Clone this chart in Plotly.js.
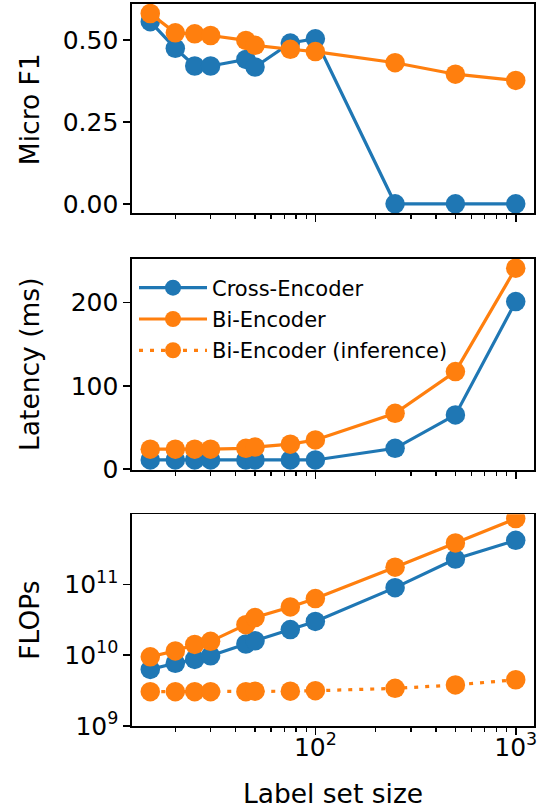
<!DOCTYPE html>
<html>
<head>
<meta charset="utf-8">
<script src="https://cdn.plot.ly/plotly-3.0.1.min.js"></script>
<style>html,body{margin:0;padding:0;background:#fff}#chart{width:544px;height:809px}</style>
</head>
<body>
<div id="chart"></div>
<script>
// ---- data ----
const labelSizes = [15, 20, 25, 30, 45, 50, 75, 100, 250, 500, 1000];
const f1Cross = [0.555, 0.474, 0.42, 0.42, 0.44, 0.417, 0.49, 0.503, 0, 0, 0];
const f1Bi = [0.58, 0.521, 0.518, 0.513, 0.498, 0.483, 0.471, 0.464, 0.43, 0.395, 0.376];
const latCross = [11, 11, 11, 11, 11, 11, 11, 11, 25, 65, 201];
const latBi = [24, 24, 24, 24, 25, 26.5, 30, 35, 67, 117, 241];
const flopsCross = [6.3e9, 7.7e9, 8.7e9, 9.8e9, 1.44e10, 1.6e10, 2.3e10, 3.0e10, 9.0e10, 2.28e11, 4.2e11];
const flopsBi = [9.5e9, 1.15e10, 1.42e10, 1.57e10, 2.7e10, 3.4e10, 4.8e10, 6.3e10, 1.75e11, 3.85e11, 8.5e11];
const flopsBiInf = [3.05e9, 3.05e9, 3.05e9, 3.05e9, 3.05e9, 3.1e9, 3.1e9, 3.15e9, 3.4e9, 3.8e9, 4.5e9];
const seriesNames = ['Cross-Encoder', 'Bi-Encoder', 'Bi-Encoder (inference)'];
const xTickVals = [100, 1000];
const xTickText = ['10<sup>2</sup>', '10<sup>3</sup>'];
const xMinorVals = [20, 30, 40, 50, 60, 70, 80, 90, 200, 300, 400, 500, 600, 700, 800, 900];
const flopsTickVals = [1e9, 1e10, 1e11];
const flopsTickText = ['10<sup>9</sup>', '10<sup>10</sup>', '10<sup>11</sup>'];
const yTitles = ['Micro F1', 'Latency (ms)', 'FLOPs'];
const xTitle = 'Label set size';

// ---- style ----
const BLUE = '#1f77b4', ORANGE = '#ff7f0e';
const LW = 3.2, MS = 19.5;
const FONT = 'DejaVu Sans, sans-serif';

function tr(y, name, color, xa, ya, show, dash) {
  return {
    x: labelSizes, y: y, name: name, type: 'scatter', mode: 'lines+markers',
    xaxis: xa, yaxis: ya, showlegend: show, legendgroup: name,
    line: {color: color, width: LW, dash: dash || 'solid'},
    marker: {color: color, size: MS}
  };
}

const data = [
  tr(f1Cross, seriesNames[0], BLUE, 'x', 'y', true),
  tr(f1Bi, seriesNames[1], ORANGE, 'x', 'y', true),
  tr(latCross, seriesNames[0], BLUE, 'x2', 'y2', false),
  tr(latBi, seriesNames[1], ORANGE, 'x2', 'y2', false),
  tr(flopsCross, seriesNames[0], BLUE, 'x3', 'y3', false),
  tr(flopsBi, seriesNames[1], ORANGE, 'x3', 'y3', false),
  tr(flopsBiInf, seriesNames[2], ORANGE, 'x3', 'y3', true, '4px,7px')
];

const xRange = [Math.log10(15) - 0.0912, 3.0912];
function xAxis(anchor, labels) {
  return {
    type: 'log', range: xRange, anchor: anchor, domain: [0, 1],
    tickmode: 'array', tickvals: xTickVals, ticktext: xTickText,
    showticklabels: labels, ticks: 'outside', ticklen: 7, tickwidth: 1.6, tickcolor: '#000',
    minor: {tickmode: 'array', tickvals: xMinorVals, ticks: 'outside', ticklen: 4, tickwidth: 1.2, tickcolor: '#000', showgrid: false},
    showline: true, linecolor: '#000', linewidth: 1.6, mirror: true,
    showgrid: false, zeroline: false,
    tickfont: {family: FONT, size: 25, color: '#000'}
  };
}
function yAxis(anchor, domain, extra) {
  return Object.assign({
    anchor: anchor, domain: domain,
    ticks: 'outside', ticklen: 7, tickwidth: 1.6, tickcolor: '#000',
    showline: true, linecolor: '#000', linewidth: 1.6, mirror: true,
    showgrid: false, zeroline: false,
    tickfont: {family: FONT, size: 25, color: '#000'}
  }, extra);
}

const domTop = [0.7101, 1], domMid = [0.3546, 0.6468], domBot = [0, 0.2932];

const xa3 = xAxis('y3', true);
xa3.ticklabelstandoff = -9;
xa3.title = {text: xTitle, font: {family: FONT, size: 26.5, color: '#000'}, standoff: 26};

const layout = {
  width: 544, height: 809,
  margin: {l: 132, r: 10, t: 4, b: 83},
  paper_bgcolor: '#fff', plot_bgcolor: '#fff',
  font: {family: FONT, color: '#000'},
  xaxis: xAxis('y', false),
  xaxis2: Object.assign(xAxis('y2', false), {matches: 'x'}),
  xaxis3: Object.assign(xa3, {matches: 'x'}),
  yaxis: yAxis('x', domTop, {range: [-0.029, 0.609], tickmode: 'array', tickvals: [0, 0.25, 0.5], tickformat: '.2f'}),
  yaxis2: yAxis('x2', domMid, {range: [-1, 252], tickmode: 'array', tickvals: [0, 100, 200]}),
  yaxis3: yAxis('x3', domBot, {type: 'log', range: [9, 11.99], tickmode: 'array', tickvals: flopsTickVals, ticktext: flopsTickText}),
  showlegend: true,
  legend: {
    x: 0.005, xanchor: 'left', y: 0.635, yanchor: 'top',
    bgcolor: 'rgba(0,0,0,0)', borderwidth: 0,
    font: {family: FONT, size: 21, color: '#000'},
    traceorder: 'grouped', tracegroupgap: 1, itemwidth: 68
  },
  annotations: yTitles.map((t, i) => {
    const d = [domTop, domMid, domBot][i];
    return {
      text: t, xref: 'paper', yref: 'paper', x: -0.255, y: (d[0] + d[1]) / 2,
      xanchor: 'center', yanchor: 'middle', textangle: -90, showarrow: false,
      font: {family: FONT, size: 26.5, color: '#000'}
    };
  })
};

Plotly.newPlot('chart', data, layout, {displayModeBar: false, staticPlot: true});
</script>
</body>
</html>
